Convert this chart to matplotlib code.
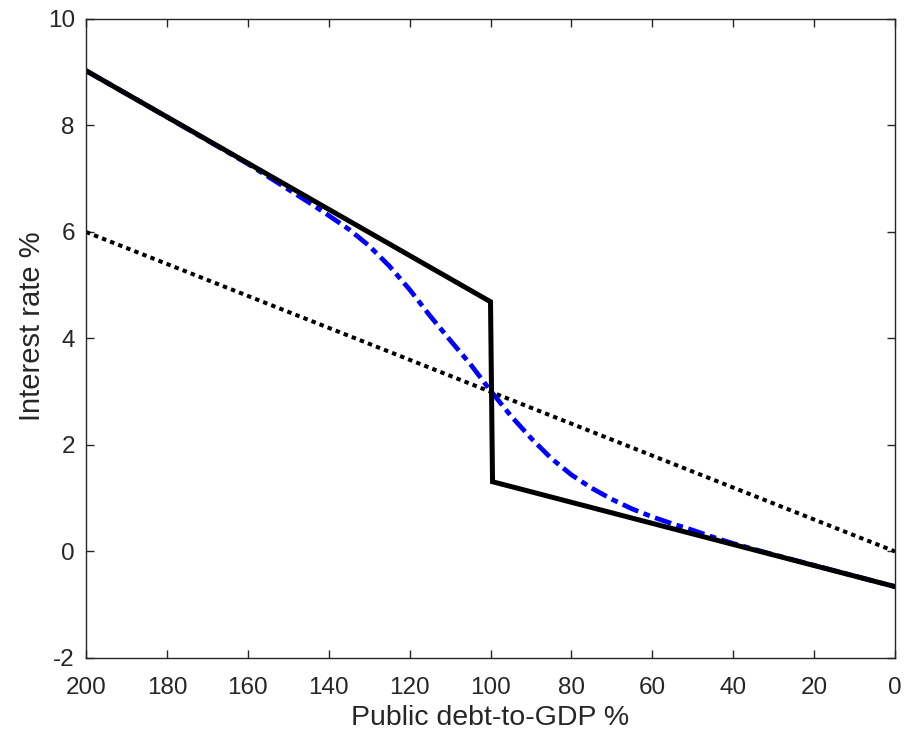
import numpy as np
import matplotlib
matplotlib.use("Agg")
import matplotlib.pyplot as plt

# black piecewise line (debt %, rate %)
kinkDebt = [200, 100, 99.5, 0]
kinkRate = [9.03, 4.69, 1.31, -0.66]

# dotted straight line
lineDebt = [200, 0]
lineRate = [6.0, 0.0]

# blue smooth curve
smoothDebt = [200, 180, 160, 155, 150, 145, 140, 135, 130, 125, 120, 115, 110,
              105, 100, 95, 90, 85, 80, 75, 70, 65, 60, 55, 50, 45, 40, 30,
              20, 10, 0]
smoothRate = [9.03, 8.16, 7.28, 7.04, 6.80, 6.56, 6.31, 6.05, 5.74, 5.36, 4.92,
              4.43, 3.97, 3.52, 3.02, 2.55, 2.13, 1.75, 1.44, 1.19, 0.98, 0.80,
              0.65, 0.52, 0.40, 0.27, 0.15, -0.06, -0.26, -0.46, -0.66]

xTicks = [200, 180, 160, 140, 120, 100, 80, 60, 40, 20, 0]
yTicks = [-2, 0, 2, 4, 6, 8, 10]

plt.rcParams['font.family'] = ['Liberation Sans', 'DejaVu Sans']
plt.rcParams['axes.unicode_minus'] = False
axisColor = '#262626'

fig = plt.figure(figsize=(9.06, 7.36), dpi=100)
ax = fig.add_axes([0.0949, 0.106, 0.8930, 0.8682])

ax.plot(lineDebt, lineRate, color='black', linewidth=2.9, linestyle=(0, (1.1, 1.05)))
ax.plot(smoothDebt, smoothRate, color='#0000ff', linewidth=3.4,
        linestyle=(0, (3.6, 1.2, 1.4, 1.2)))
ax.plot(kinkDebt, kinkRate, color='black', linewidth=3.6, solid_joinstyle='miter')

ax.set_xlim(200, 0)
ax.set_ylim(-2, 10)
ax.set_xticks(xTicks)
ax.set_yticks(yTicks)
ax.tick_params(direction='in', length=6, width=1.0, top=True, right=True,
               labelsize=17.5, colors=axisColor, labelcolor=axisColor)
ax.tick_params(axis='y', pad=8)
ax.tick_params(axis='x', pad=14)
for s in ax.spines.values():
    s.set_color(axisColor)
    s.set_linewidth(1.0)

ax.set_xlabel("Public debt-to-GDP %", fontsize=20.5, color=axisColor, labelpad=4)
ax.set_ylabel("Interest rate %", fontsize=21, color=axisColor)
ax.yaxis.set_label_coords(-0.05, 0.52)

fig.savefig("out.png", dpi=100)
